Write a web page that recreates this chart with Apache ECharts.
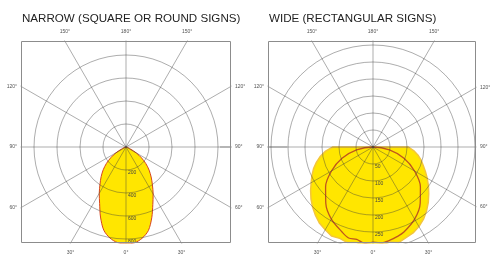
<!DOCTYPE html>
<html>
<head>
<meta charset="utf-8">
<script src="https://cdn.jsdelivr.net/npm/echarts@6/dist/echarts.min.js"></script>
<style>
html, body { margin: 0; padding: 0; background: #fff; }
#chart { width: 490px; height: 258px; }
</style>
</head>
<body>
<div id="chart"></div>
<script>
// angle 0 = straight down, counting clockwise (so 0..90 is the left half)
var narrowAngles = [0, 5, 10, 15, 20, 25, 30, 35, 40, 45, 50, 55, 60, 65, 70, 90, 180, 270, 290,
  295, 300, 305, 310, 315, 320, 325, 330, 335, 340, 345, 350, 355, 360];
var narrowValues = [843, 835, 804, 748, 648, 543, 465, 394, 336, 280, 222, 160, 100, 42, 0, 0, 0, 0, 0,
  45, 104, 165, 226, 284, 340, 400, 472, 552, 655, 752, 806, 837, 843];

var wideAngles = [0, 5, 10, 15, 20, 25, 30, 35, 40, 45, 50, 55, 60, 65, 70, 75, 80, 85, 90, 90.01, 180, 269.99,
  270, 275, 280, 285, 290, 295, 300, 305, 310, 315, 320, 325, 330, 335, 340, 345, 350, 355, 360];
var wideValues = [288, 292, 285, 291, 286, 289, 281, 274, 263, 251, 238, 224, 210, 198, 186, 172, 157, 140, 118, 0, 0, 0,
  103, 120, 134, 146, 157, 170, 184, 199, 214, 230, 245, 259, 270, 279, 284, 291, 284, 290, 288];

var cosAngles = [0, 5, 10, 15, 20, 30, 40, 50, 60, 70, 80, 90, 180, 270, 280, 290, 300, 310, 320, 330, 340, 345, 350, 355, 360];
var cosValues = [280, 284, 276, 277, 266, 245, 216, 182, 141, 97, 49, 0, 0, 0, 49, 97, 141, 182, 216, 245, 266, 273, 279, 283, 280];

var narrowRings = [200, 400, 600, 800];
var wideRings = [50, 100, 150, 200, 250];
var spokeAngles = [0, 30, 60, 90, 120, 150, 180, 210, 240, 270, 300, 330];
var titles = ['NARROW (SQUARE OR ROUND SIGNS)', 'WIDE (RECTANGULAR SIGNS)'];

var FONT = '"Liberation Sans", Arial, sans-serif';
var gridColor = 'rgba(60,60,60,0.42)';

var panels = [
  { box: [21, 41, 231, 243], center: [126, 147], px: 23, step: 200, circleMax: 800, axisMax: 1400, rings: narrowRings },
  { box: [268, 41, 476, 243], center: [373, 147], px: 17, step: 50, circleMax: 300, axisMax: 450, rings: wideRings }
];

function ringColors(p) {
  var out = [];
  for (var v = 0; v <= p.axisMax; v += p.step) {
    out.push(v > 0 && v <= p.circleMax ? gridColor : 'rgba(0,0,0,0)');
  }
  return out;
}

// where a spoke leaves the box
function edgePoint(p, a) {
  var phi = (270 - a) * Math.PI / 180;
  var dx = Math.cos(phi), dy = -Math.sin(phi);
  var cx = p.center[0], cy = p.center[1], b = p.box;
  var t = Infinity, side = '', tt;
  if (dx > 1e-6) { tt = (b[2] - cx) / dx; if (tt < t) { t = tt; side = 'r'; } }
  if (dx < -1e-6) { tt = (b[0] - cx) / dx; if (tt < t) { t = tt; side = 'l'; } }
  if (dy > 1e-6) { tt = (b[3] - cy) / dy; if (tt < t) { t = tt; side = 'b'; } }
  if (dy < -1e-6) { tt = (b[1] - cy) / dy; if (tt < t) { t = tt; side = 't'; } }
  return { x: cx + dx * t, y: cy + dy * t, side: side };
}

var polar = [], angleAxis = [], radiusAxis = [];
var graphic = [
  { type: 'rect', z: 10, silent: true, shape: { x: 0, y: 0, width: 490, height: 40.5 }, style: { fill: '#fff' } },
  { type: 'rect', z: 10, silent: true, shape: { x: 0, y: 243.5, width: 490, height: 20 }, style: { fill: '#fff' } },
  { type: 'rect', z: 10, silent: true, shape: { x: 0, y: 0, width: 20.5, height: 258 }, style: { fill: '#fff' } },
  { type: 'rect', z: 10, silent: true, shape: { x: 231.5, y: 0, width: 36, height: 258 }, style: { fill: '#fff' } },
  { type: 'rect', z: 10, silent: true, shape: { x: 476.5, y: 0, width: 20, height: 258 }, style: { fill: '#fff' } }
];

panels.forEach(function (p, i) {
  polar.push({ center: p.center, radius: p.px * p.axisMax / p.step });
  angleAxis.push({
    polarIndex: i, type: 'value', min: 0, max: 360, interval: 30,
    startAngle: 270, clockwise: true, z: 3,
    axisLine: { show: false }, axisTick: { show: false }, axisLabel: { show: false },
    splitLine: { show: true, lineStyle: { color: gridColor, width: 1 } }
  });
  radiusAxis.push({
    polarIndex: i, type: 'value', min: 0, max: p.axisMax, interval: p.step, z: 3,
    axisLine: { show: false }, axisTick: { show: false },
    axisLabel: {
      fontSize: 5, color: '#444', fontFamily: FONT, margin: 2, verticalAlign: 'top',
      formatter: function (v) { return p.rings.indexOf(v) >= 0 ? String(v) : ''; }
    },
    splitLine: { show: true, lineStyle: { color: ringColors(p), width: 1 } }
  });

  var b = p.box;
  graphic.push({
    type: 'rect', z: 11, silent: true,
    shape: { x: b[0] + 0.5, y: b[1] + 0.5, width: b[2] - b[0] - 1, height: b[3] - b[1] - 1 },
    style: { fill: 'none', stroke: '#8c8c8c', lineWidth: 1 }
  });
  graphic.push({
    type: 'text', z: 12, silent: true, x: b[0] + 1, y: 19,
    style: { text: titles[i], font: '11.6px ' + FONT, fill: '#222', textAlign: 'left', textVerticalAlign: 'middle' }
  });
  spokeAngles.forEach(function (a) {
    var e = edgePoint(p, a);
    var x = e.x, y = e.y, align = 'center';
    if (e.side === 't') y -= 9;
    if (e.side === 'b') y += 10;
    if (e.side === 'l') { x -= 4; align = 'right'; }
    if (e.side === 'r') { x += 4; align = 'left'; }
    graphic.push({
      type: 'text', z: 12, silent: true, x: x, y: y,
      style: { text: (a <= 180 ? a : 360 - a) + '°', font: '5px ' + FONT, fill: '#555', textAlign: align, textVerticalAlign: 'middle' }
    });
  });
});

function pairs(angles, values) {
  return angles.map(function (a, k) { return [values[k], a]; });
}

var option = {
  animation: false,
  polar: polar,
  angleAxis: angleAxis,
  radiusAxis: radiusAxis,
  graphic: graphic,
  series: [
    {
      type: 'line', coordinateSystem: 'polar', polarIndex: 0, z: 1,
      data: pairs(narrowAngles, narrowValues), smooth: 0.3, symbol: 'none',
      lineStyle: { color: '#d6431f', width: 1 },
      areaStyle: { color: '#ffe600', opacity: 1 }
    },
    {
      type: 'line', coordinateSystem: 'polar', polarIndex: 1, z: 1,
      data: pairs(wideAngles, wideValues), smooth: false, symbol: 'none',
      lineStyle: { color: '#f3c53c', width: 1.5 },
      areaStyle: { color: '#ffe600', opacity: 1 }
    },
    {
      type: 'line', coordinateSystem: 'polar', polarIndex: 1, z: 2,
      data: pairs(cosAngles, cosValues), smooth: 0.3, symbol: 'none',
      lineStyle: { color: '#c0561d', width: 1.3 }
    }
  ]
};

var myChart = echarts.init(document.getElementById('chart'));
myChart.setOption(option);
</script>
</body>
</html>
